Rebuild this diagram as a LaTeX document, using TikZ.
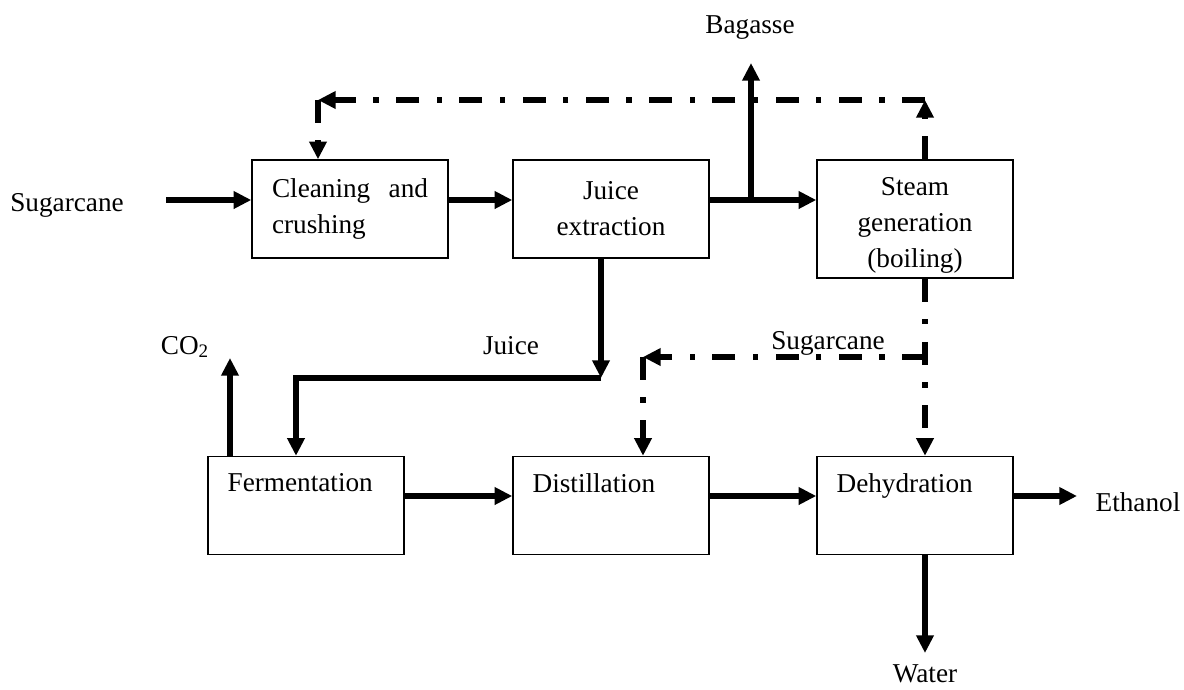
\documentclass[tikz,border=0pt]{standalone}
\usepackage{fontspec}
\setmainfont{Liberation Serif}
\usetikzlibrary{arrows.meta}

\begin{document}
\begin{tikzpicture}[
    x=0.02cm, y=-0.02cm,
    every node/.style={font=\fontsize{15.5}{20.5}\selectfont},
    box/.style={rectangle, draw, line width=0.85pt, minimum width=3.92cm, minimum height=1.96cm, inner sep=0pt},
    tallbox/.style={box, minimum height=2.36cm},
    lbl/.style={anchor=north west, inner sep=0pt, xshift=0.4cm, yshift=-0.34cm},
    toplbl/.style={anchor=north, inner sep=0pt, align=center, yshift=-0.36cm},
    arrow/.style={-{Triangle[length=10pt,width=9.5pt]}, line width=3pt},
    dasharrow/.style={arrow, dash pattern=on 13pt off 10pt on 3pt off 10pt}
]
\useasboundingbox (0,0) rectangle (1184,690);

% process boxes
\node[box, align=justify, text width=3.12cm] (clean) at (350,209) {Cleaning and crushing};
\node[box, align=center] (juice) at (611,209) {Juice\\extraction};
\node[tallbox, label={[toplbl]north:Steam\\generation\\(boiling)}] (steam) at (915,219) {};
\node[box, label={[lbl]north west:Fermentation}] (ferm) at (306,505.5) {};
\node[box, label={[lbl]north west:Distillation}] (dist) at (611,505.5) {};
\node[box, label={[lbl]north west:Dehydration}] (dehyd) at (915,505.5) {};

% stream labels
\node (feed) at (67,205) {Sugarcane};
\node (bagasse) at (750,28) {Bagasse};
\node (co2) at (185,347) {CO\textsubscript{2}};
\node (juicelbl) at (511,346) {Juice};
\node (canelbl) at (828,343) {Sugarcane};
\node (ethanol) at (1138,502) {Ethanol};
\node (water) at (925,674) {Water};

% bends and free ends
\coordinate (row1) at (0,200);
\coordinate (row2) at (0,496);
\coordinate (feedend) at (166,200);
\coordinate (bag) at (751,200);
\coordinate (bagtip) at (751,63);
\coordinate (jbend) at (601,378);
\coordinate (fbend) at (296,378);
\coordinate (co2tip) at (230,358);
\coordinate (ethtip) at (1077,496);
\coordinate (watertip) at (925,653);
\coordinate (recycle) at (925,100);
\coordinate (cleanin) at (318,100);
\coordinate (split) at (925,357);
\coordinate (distin) at (643,357);

% main flow
\draw[arrow] (feedend) -- (clean.west |- row1);
\draw[arrow] (clean.east |- row1) -- (juice.west |- row1);
\draw[arrow] (juice.east |- row1) -- (steam.west |- row1);
\draw[arrow] (bag) -- (bagtip);
\draw[arrow] (juice.south -| jbend) -- (jbend);
\draw[arrow] (jbend) -- (fbend) -- (ferm.north -| fbend);
\draw[arrow] (ferm.north -| co2tip) -- (co2tip);
\draw[arrow] (ferm.east |- row2) -- (dist.west |- row2);
\draw[arrow] (dist.east |- row2) -- (dehyd.west |- row2);
\draw[arrow] (dehyd.east |- row2) -- (ethtip);
\draw[arrow] (dehyd.south -| watertip) -- (watertip);

% steam lines
\draw[dasharrow] (steam.north -| recycle) -- (recycle);
\draw[dasharrow] (recycle) -- (cleanin);
\draw[dasharrow] (cleanin) -- (clean.north -| cleanin);
\draw[dasharrow] (steam.south -| split) -- (dehyd.north -| split);
\draw[dasharrow] (split) -- (distin);
\draw[dasharrow] (distin) -- (dist.north -| distin);

\end{tikzpicture}
\end{document}
